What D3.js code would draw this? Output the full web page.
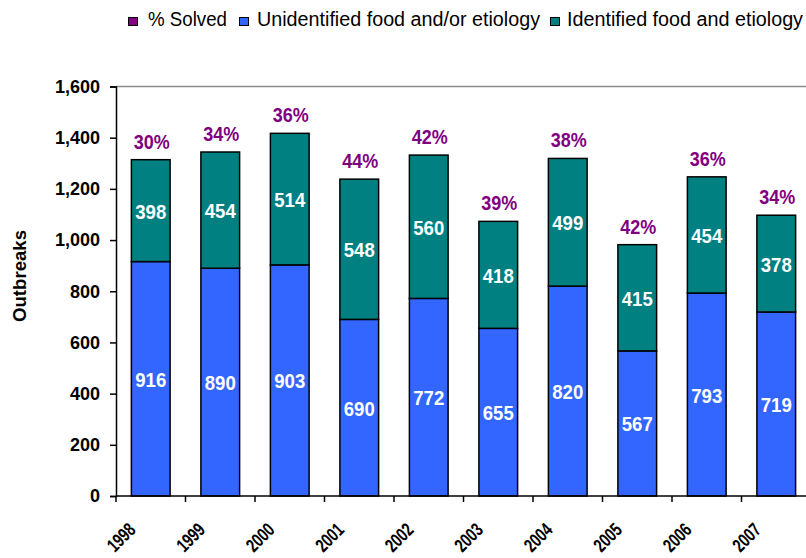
<!DOCTYPE html>
<html>
<head>
<meta charset="utf-8">
<script src="https://cdn.jsdelivr.net/npm/d3@7"></script>
<style>
  body { margin: 0; background: #fff; }
  svg { display: block; font-family: "Liberation Sans", Arial, sans-serif; }
</style>
</head>
<body>
<svg id="chart" width="806" height="558"></svg>
<script>
// chart data
const years = ["1998", "1999", "2000", "2001", "2002", "2003", "2004", "2005", "2006", "2007"];
const unidentified = [916, 890, 903, 690, 772, 655, 820, 567, 793, 719];
const identified = [398, 454, 514, 548, 560, 418, 499, 415, 454, 378];
const pctSolved = [30, 34, 36, 44, 42, 39, 38, 42, 36, 34];
const yTicks = [0, 200, 400, 600, 800, 1000, 1200, 1400, 1600];
const legendLabels = ["% Solved", "Unidentified food and/or etiology", "Identified food and etiology"];

const colors = { pct: "#800080", unid: "#3366ff", ident: "#008080" };

const svg = d3.select("#chart");
const plotLeft = 116, plotTop = 86.5, plotBottom = 496, bandW = 69.5;

const x = d3.scaleBand().domain(years).range([plotLeft, plotLeft + bandW * years.length]).paddingInner(0.443).paddingOuter(0.2215);
const y = d3.scaleLinear().domain([0, 1600]).range([plotBottom, plotTop]);

// plot area border (top)
svg.append("line")
  .attr("x1", plotLeft).attr("x2", 806)
  .attr("y1", plotTop).attr("y2", plotTop)
  .attr("stroke", "#8c8c8c").attr("stroke-width", 1.5);

// stacked bars
const data = years.map((yr, i) => ({ yr, u: unidentified[i], id: identified[i], p: pctSolved[i] }));

const g = svg.append("g");
data.forEach(d => {
  g.append("rect")
    .attr("x", x(d.yr)).attr("width", x.bandwidth())
    .attr("y", y(d.u)).attr("height", y(0) - y(d.u))
    .attr("fill", colors.unid).attr("stroke", "#000").attr("stroke-width", 1.5);
  g.append("rect")
    .attr("x", x(d.yr)).attr("width", x.bandwidth())
    .attr("y", y(d.u + d.id)).attr("height", y(d.u) - y(d.u + d.id))
    .attr("fill", colors.ident).attr("stroke", "#000").attr("stroke-width", 1.5);

  const cx = x(d.yr) + x.bandwidth() / 2;
  // white value labels, tall and narrow like the original
  g.append("text")
    .attr("x", cx - 15.5).attr("y", (y(0) + y(d.u)) / 2 + 8)
    .attr("fill", "#fff")
    .attr("textLength", 31).attr("lengthAdjust", "spacingAndGlyphs")
    .style("font-size", "21px").style("font-weight", "bold")
    .text(d.u);
  g.append("text")
    .attr("x", cx - 15.5).attr("y", (y(d.u) + y(d.u + d.id)) / 2 + 8)
    .attr("fill", "#fff")
    .attr("textLength", 31).attr("lengthAdjust", "spacingAndGlyphs")
    .style("font-size", "21px").style("font-weight", "bold")
    .text(d.id);
  g.append("text")
    .attr("x", cx - 17).attr("y", y(d.u + d.id) - 11)
    .attr("fill", colors.pct)
    .attr("textLength", 36).attr("lengthAdjust", "spacingAndGlyphs")
    .style("font-size", "20px").style("font-weight", "bold")
    .text(d.p + "%");
});

// y axis
const yAxis = svg.append("g")
  .attr("transform", `translate(${plotLeft},0)`)
  .call(d3.axisLeft(y).tickValues(yTicks).tickSize(6).tickPadding(10).tickFormat(d3.format(",")));
yAxis.select(".domain").attr("stroke", "#000").attr("stroke-width", 1.5);
yAxis.selectAll(".tick line").attr("stroke", "#000").attr("stroke-width", 1.5);
yAxis.selectAll(".tick text")
  .attr("fill", "#000").style("font-size", "18px").style("font-weight", "bold")
  .style("font-family", "'Liberation Sans', Arial, sans-serif");

// x axis line and ticks at category boundaries
svg.append("line")
  .attr("x1", plotLeft).attr("x2", 806)
  .attr("y1", plotBottom).attr("y2", plotBottom)
  .attr("stroke", "#000").attr("stroke-width", 1.5);
d3.range(years.length + 1).forEach(i => {
  const tx = plotLeft + i * bandW;
  svg.append("line")
    .attr("x1", tx).attr("x2", tx)
    .attr("y1", plotBottom).attr("y2", plotBottom + 6)
    .attr("stroke", "#000").attr("stroke-width", 1.5);
});

// rotated year labels
years.forEach(yr => {
  const cx = x(yr) + x.bandwidth() / 2;
  svg.append("text")
    .attr("transform", `translate(${cx - 14},${531}) rotate(-45)`)
    .attr("text-anchor", "end")
    .attr("textLength", 31).attr("lengthAdjust", "spacingAndGlyphs")
    .style("font-size", "19px").style("font-weight", "bold")
    .text(yr);
});

// y axis title
svg.append("text")
  .attr("transform", "translate(26,276) rotate(-90)")
  .attr("text-anchor", "middle")
  .style("font-size", "18px").style("font-weight", "bold")
  .attr("textLength", 92).attr("lengthAdjust", "spacingAndGlyphs")
  .text("Outbreaks");

// legend
const legendItems = [
  { sq: 128.5, tx: 148, w: 79, c: colors.pct },
  { sq: 239.5, tx: 257, w: 283, c: colors.unid },
  { sq: 550.5, tx: 567, w: 236, c: colors.ident }
];
legendItems.forEach((it, i) => {
  svg.append("rect")
    .attr("x", it.sq).attr("y", 17.5).attr("width", 9).attr("height", 8)
    .attr("fill", it.c).attr("stroke", "#000").attr("stroke-width", 1);
  svg.append("text")
    .attr("x", it.tx).attr("y", 26)
    .style("font-size", "20px")
    .attr("textLength", it.w).attr("lengthAdjust", "spacingAndGlyphs")
    .text(legendLabels[i]);
});
</script>
</body>
</html>
